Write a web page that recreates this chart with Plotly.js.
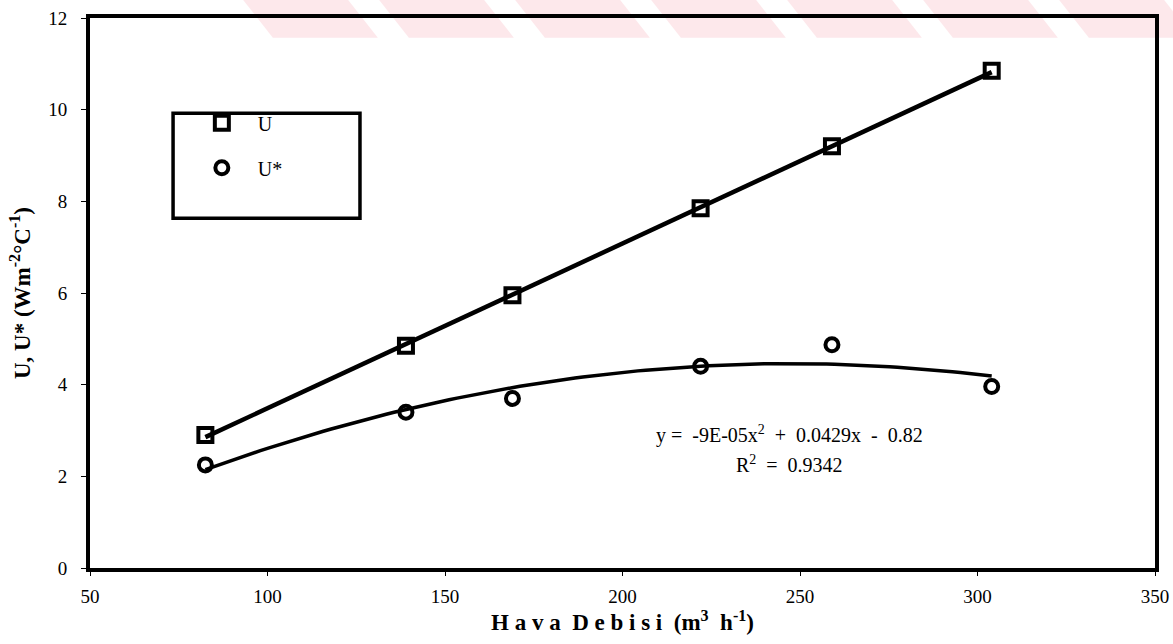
<!DOCTYPE html>
<html>
<head>
<meta charset="utf-8">
<script src="https://cdn.plot.ly/plotly-3.0.1.min.js"></script>
<style>html,body{margin:0;padding:0;background:#fff;}#chart{width:1173px;height:644px;}</style>
</head>
<body>
<div id="chart"></div>
<script>
// Data
const airflow = [82.5, 139, 169, 222, 259, 304];     // Hava Debisi (m3 h-1)
const uValues = [2.9, 4.85, 5.95, 7.85, 9.2, 10.85];  // U
const uStarValues = [2.25, 3.4, 3.7, 4.4, 4.87, 3.96]; // U*
const xTicks = [50, 100, 150, 200, 250, 300, 350];
const yTicks = [0, 2, 4, 6, 8, 10, 12];
const equationText = "y =  -9E-05x<sup>2</sup>  +  0.0429x  -  0.82";
const r2Text = "R<sup>2</sup>  =  0.9342";

// least-squares helpers (trendlines computed from the data)
function linFit(x, y) {
  const n = x.length;
  let sx=0, sy=0, sxx=0, sxy=0;
  for (let i=0;i<n;i++){sx+=x[i];sy+=y[i];sxx+=x[i]*x[i];sxy+=x[i]*y[i];}
  const b = (n*sxy - sx*sy)/(n*sxx - sx*sx);
  const a = (sy - b*sx)/n;
  return t => a + b*t;
}
function quadFit(x, y) {
  const S = [0,0,0,0,0], T=[0,0,0];
  for (let i=0;i<x.length;i++){
    let p=1;
    for (let k=0;k<5;k++){S[k]+=p; if(k<3) T[k]+=p*y[i]; p*=x[i];}
  }
  const M = [[S[0],S[1],S[2],T[0]],[S[1],S[2],S[3],T[1]],[S[2],S[3],S[4],T[2]]];
  for (let c=0;c<3;c++){
    let piv=c; for(let r=c+1;r<3;r++) if(Math.abs(M[r][c])>Math.abs(M[piv][c])) piv=r;
    [M[c],M[piv]]=[M[piv],M[c]];
    for(let r=0;r<3;r++){ if(r===c) continue; const f=M[r][c]/M[c][c]; for(let k=c;k<4;k++) M[r][k]-=f*M[c][k]; }
  }
  const c0=M[0][3]/M[0][0], c1=M[1][3]/M[1][1], c2=M[2][3]/M[2][2];
  return t => c0 + c1*t + c2*t*t;
}
const xMin = Math.min(...airflow), xMax = Math.max(...airflow);
const xs = [];
for (let i=0;i<=100;i++) xs.push(xMin + (xMax-xMin)*i/100);
const lf = linFit(airflow, uValues);
const qf = quadFit(airflow, uStarValues);

const traces = [
  {x: xs, y: xs.map(lf), mode:'lines', line:{color:'#000', width:4.5}, showlegend:false, hoverinfo:'skip'},
  {x: xs, y: xs.map(qf), mode:'lines', line:{color:'#000', width:3.5}, showlegend:false, hoverinfo:'skip'},
  {x: airflow, y: uValues, mode:'markers', name:'U', legendgroup:'a',
   marker:{symbol:'square-open', size:14, color:'#000', line:{width:4, color:'#000'}}},
  {x: airflow, y: uStarValues, mode:'markers', name:'U*', legendgroup:'b',
   marker:{symbol:'circle-open', size:13, color:'#000', line:{width:4, color:'#000'}}}
];

// faint watermark stripes at the top of the picture
const stripes = [];
for (let k=0;k<7;k++){
  const x0 = 0.1437 + k*0.1277;
  stripes.push({type:'path', xref:'paper', yref:'paper', layer:'below',
    path:`M ${x0} 1.033 L ${x0+0.0986} 1.033 L ${x0+0.1266} 0.964 L ${x0+0.028} 0.964 Z`,
    fillcolor:'rgba(235,50,70,0.11)', line:{width:0}});
}

const serif = '"Liberation Serif", "Times New Roman", serif';
const layout = {
  width:1173, height:644,
  margin:{l:90, r:18, t:18, b:76, pad:0},
  paper_bgcolor:'#fff', plot_bgcolor:'rgba(0,0,0,0)',
  font:{family:serif, color:'#000', size:18},
  showlegend:true,
  legend:{x:0.090, y:0.845, xanchor:'left', yanchor:'top', bgcolor:'rgba(0,0,0,0)',
    borderwidth:0, font:{family:serif, size:20, color:'#000'}, tracegroupgap:16, itemwidth:62},
  xaxis:{range:[50,350], tickvals:xTicks, ticktext:xTicks.map(String), showgrid:false, zeroline:false,
    showline:true, linecolor:'#000', linewidth:4, mirror:true, ticks:'outside', ticklen:4, tickwidth:1, tickcolor:'#000',
    ticklabelstandoff:4,
    tickfont:{family:serif, size:19, color:'#000'},
    title:{text:'<b>H a v a  D e b i s i  (m<sup>3</sup>  h<sup>-1</sup>)</b>', font:{family:serif, size:23, color:'#000'}, standoff:8}},
  yaxis:{range:[0,12], tickvals:yTicks, ticktext:yTicks.map(String), showgrid:false, zeroline:false,
    showline:true, linecolor:'#000', linewidth:4, mirror:true, ticks:'outside', ticklen:5, tickwidth:1, tickcolor:'#000',
    ticklabelstandoff:10,
    tickfont:{family:serif, size:19, color:'#000'},
    title:{text:'<b>U, U* (Wm<sup>-2</sup>°C<sup>-1</sup>)</b>', font:{family:serif, size:23, color:'#000'}, standoff:12}},
  shapes: stripes.concat([
    {type:'rect', xref:'paper', yref:'paper', x0:0.078, x1:0.2535, y0:0.636, y1:0.827,
     line:{color:'#000', width:3.5}, fillcolor:'rgba(0,0,0,0)'}
  ]),
  annotations:[
    {xref:'x', yref:'y', x:247, y:(566-433)/45.75, text:equationText, showarrow:false,
     font:{family:serif, size:20, color:'#000'}, xanchor:'center', yanchor:'middle'},
    {xref:'x', yref:'y', x:247, y:(566-462)/45.75, text:r2Text, showarrow:false,
     font:{family:serif, size:20, color:'#000'}, xanchor:'center', yanchor:'middle'}
  ]
};
Plotly.newPlot('chart', traces, layout, {displayModeBar:false, staticPlot:true});
</script>
</body>
</html>
